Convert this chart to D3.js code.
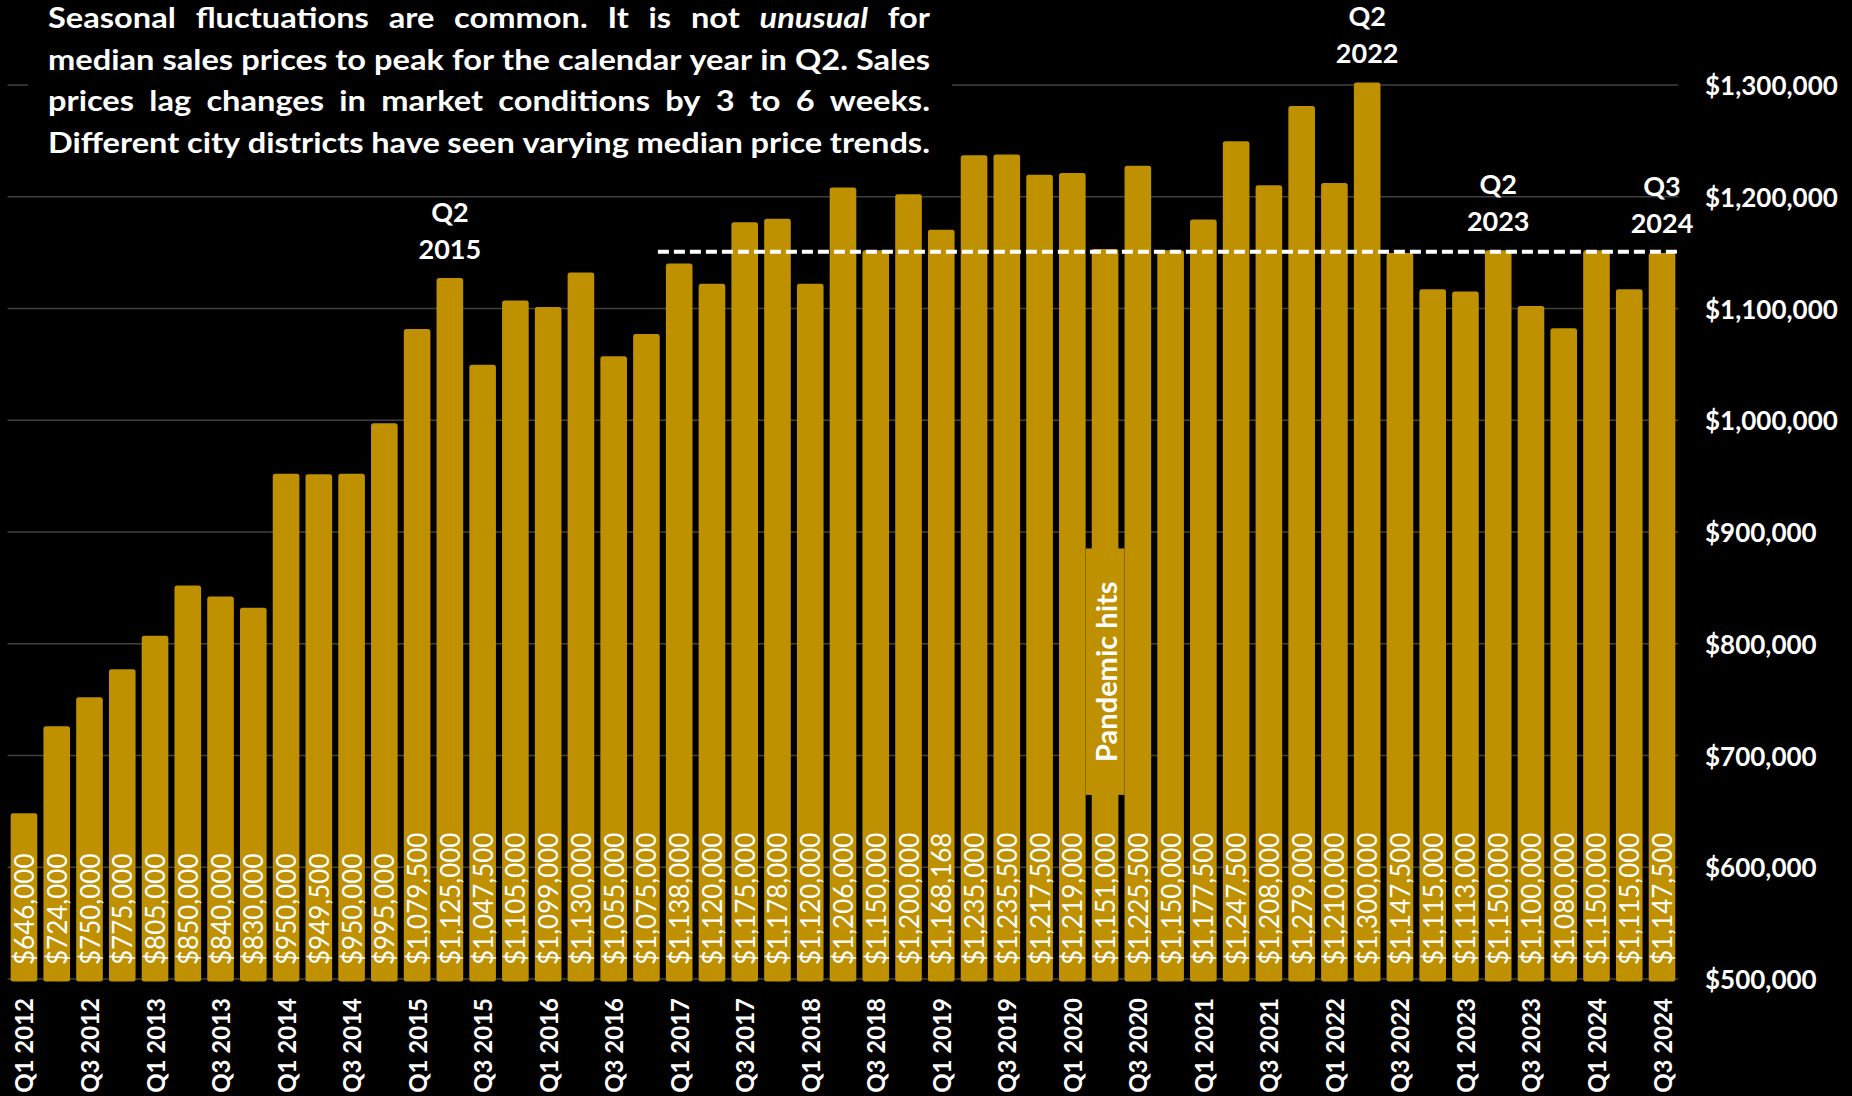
<!DOCTYPE html>
<html>
<head>
<meta charset="utf-8">
<script src="https://cdn.jsdelivr.net/npm/d3@7/dist/d3.min.js"></script>
<style>
  html, body { margin: 0; padding: 0; background: #000; }
  svg { display: block; }
</style>
</head>
<body>
<svg width="1852" height="1096"></svg>
<script>
// quarter categories, Q1 2012 .. Q3 2024
const quarters = [
  "Q1 2012", "Q2 2012", "Q3 2012", "Q4 2012",
  "Q1 2013", "Q2 2013", "Q3 2013", "Q4 2013",
  "Q1 2014", "Q2 2014", "Q3 2014", "Q4 2014",
  "Q1 2015", "Q2 2015", "Q3 2015", "Q4 2015",
  "Q1 2016", "Q2 2016", "Q3 2016", "Q4 2016",
  "Q1 2017", "Q2 2017", "Q3 2017", "Q4 2017",
  "Q1 2018", "Q2 2018", "Q3 2018", "Q4 2018",
  "Q1 2019", "Q2 2019", "Q3 2019", "Q4 2019",
  "Q1 2020", "Q2 2020", "Q3 2020", "Q4 2020",
  "Q1 2021", "Q2 2021", "Q3 2021", "Q4 2021",
  "Q1 2022", "Q2 2022", "Q3 2022", "Q4 2022",
  "Q1 2023", "Q2 2023", "Q3 2023", "Q4 2023",
  "Q1 2024", "Q2 2024", "Q3 2024"
];

// median sales price for each quarter
const medianPrices = [
  646000, 724000, 750000, 775000,
  805000, 850000, 840000, 830000,
  950000, 949500, 950000, 995000,
  1079500, 1125000, 1047500, 1105000,
  1099000, 1130000, 1055000, 1075000,
  1138000, 1120000, 1175000, 1178000,
  1120000, 1206000, 1150000, 1200000,
  1168168, 1235000, 1235500, 1217500,
  1219000, 1151000, 1225500, 1150000,
  1177500, 1247500, 1208000, 1279000,
  1210000, 1300000, 1147500, 1115000,
  1113000, 1150000, 1100000, 1080000,
  1150000, 1115000, 1147500
];

// only Q1 and Q3 get an axis label
const labelledQuarters = quarters.filter(q => q.startsWith("Q1") || q.startsWith("Q3"));

// y axis ticks
const priceTicks = [500000, 600000, 700000, 800000, 900000, 1000000, 1100000, 1200000, 1300000];

// callouts above some bars
const calloutQuarters = ["Q2 2015", "Q2 2022", "Q2 2023", "Q3 2024"];

// dashed reference level
const benchmarkPrice = 1150000;
const benchmarkAfter = "Q4 2016";

// pandemic marker
const pandemicQuarter = "Q2 2020";
const pandemicLabel = "Pandemic hits";
const pandemicLevel = 775000;

// note in the top left corner (*word* = italic)
const noteLines = [
  "Seasonal fluctuations are common. It is not *unusual* for",
  "median sales prices to peak for the calendar year in Q2. Sales",
  "prices lag changes in market conditions by 3 to 6 weeks.",
  "Different city districts have seen varying median price trends."
];

const gold = "#BF9000";
const font = "Lato, 'Open Sans', sans-serif";

let svg = d3.select("svg");
let width = parseInt(svg.attr("width"));
let height = parseInt(svg.attr("height"));

// scales
const x = d3.scaleBand()
    .domain(quarters)
    .range([7.6, 1678.4])
    .paddingInner(0.34)
    .paddingOuter(0.17);

const y = d3.scaleLinear()
    .domain([500000, 1300000])
    .range([979, 85]);

const fmt = v => "$" + d3.format(",")(v);
const cx = q => x(q) + x.bandwidth() / 2;

// gridlines
svg.append("g")
    .selectAll("line")
    .data(priceTicks)
    .enter()
    .append("line")
    .attr("x1", x.range()[0])
    .attr("x2", x.range()[1])
    .attr("y1", d => y(d))
    .attr("y2", d => y(d))
    .style("stroke", "#404040")
    .style("stroke-width", 1.5);

// note background hides the gridlines behind the text
const noteLeft = 48, noteWidth = 882, noteBase = 28, noteLead = 41.7, noteSize = 28.5;
svg.append("rect")
    .attr("x", noteLeft - 20)
    .attr("y", 0)
    .attr("width", noteWidth + 42)
    .attr("height", 168)
    .attr("fill", "#000");

// bars
svg.append("g")
    .selectAll("rect")
    .data(quarters)
    .enter()
    .append("rect")
    .attr("x", d => x(d))
    .attr("width", x.bandwidth())
    .attr("y", (d, i) => y(medianPrices[i]))
    .attr("height", (d, i) => y(500000) - y(medianPrices[i]))
    .attr("fill", gold)
    .attr("stroke", gold)
    .attr("stroke-width", 5)
    .attr("stroke-linejoin", "round");

// value labels inside the bars
svg.append("g")
    .selectAll("text")
    .data(quarters)
    .enter()
    .append("text")
    .attr("transform", d => `translate(${cx(d)},${y(500000) - 14}) rotate(-90)`)
    .attr("dominant-baseline", "central")
    .style("font-family", font)
    .style("font-size", "26px")
    .style("fill", "#fff")
    .text((d, i) => fmt(medianPrices[i]));

// dashed benchmark line
svg.append("line")
    .attr("x1", cx(benchmarkAfter) + x.step() * 0.35)
    .attr("x2", x.range()[1])
    .attr("y1", y(benchmarkPrice) - 1)
    .attr("y2", y(benchmarkPrice) - 1)
    .style("stroke", "#fff")
    .style("stroke-width", 4)
    .style("stroke-dasharray", "11,5");

// pandemic marker
const pand = svg.append("g")
    .attr("transform", `translate(${cx(pandemicQuarter)},${y(pandemicLevel)})`);
const pandBox = pand.append("rect").attr("fill", gold);
const pandText = pand.append("text")
    .attr("transform", "rotate(-90)")
    .attr("text-anchor", "middle")
    .attr("dominant-baseline", "central")
    .style("font-family", font)
    .style("font-size", "29px")
    .style("font-weight", "bold")
    .style("fill", "#fff")
    .text(pandemicLabel);
const pandLen = pandText.node().getComputedTextLength();
pandBox
    .attr("x", -x.step() / 2 - 3)
    .attr("width", x.step() + 6)
    .attr("y", -pandLen / 2 - 33)
    .attr("height", pandLen + 66);

// callouts above bars
calloutQuarters.forEach(q => {
    const v = medianPrices[quarters.indexOf(q)];
    const t = svg.append("text")
        .attr("text-anchor", "middle")
        .style("font-family", font)
        .style("font-size", "27px")
        .style("font-weight", "bold")
        .style("fill", "#fff");
    t.append("tspan").attr("x", cx(q)).attr("y", y(v) - 59).text(q.split(" ")[0]);
    t.append("tspan").attr("x", cx(q)).attr("y", y(v) - 22).text(q.split(" ")[1]);
});

// y axis labels on the right
svg.append("g")
    .selectAll("text")
    .data(priceTicks)
    .enter()
    .append("text")
    .attr("x", 1705)
    .attr("y", d => y(d))
    .attr("dominant-baseline", "central")
    .style("font-family", font)
    .style("font-size", "26px")
    .style("font-weight", "bold")
    .style("fill", "#fff")
    .text(fmt);

// x axis labels, rotated
svg.append("g")
    .selectAll("text")
    .data(labelledQuarters)
    .enter()
    .append("text")
    .attr("transform", d => `translate(${cx(d)},${y(500000) + 19}) rotate(-90)`)
    .attr("text-anchor", "end")
    .attr("dominant-baseline", "central")
    .style("font-family", font)
    .style("font-size", "24px")
    .style("font-weight", "bold")
    .style("fill", "#fff")
    .text(d => d);

// justified note text; glyphs stretched a bit so the widest line
// fills the box with ordinary word spacing
const note = svg.append("g");
const minGap = 7.5;
const noteRows = noteLines.map((line, i) => {
    const g = note.append("g")
        .attr("transform", `translate(${noteLeft},${noteBase + i * noteLead})`);
    const words = line.split(" ");
    const nodes = words.map(w => g.append("text")
        .style("font-family", font)
        .style("font-size", noteSize + "px")
        .style("font-weight", "bold")
        .style("font-style", w.startsWith("*") ? "italic" : "normal")
        .style("fill", "#fff")
        .text(w.replace(/\*/g, "")));
    const widths = nodes.map(n => n.node().getComputedTextLength());
    return {nodes: nodes, widths: widths, total: d3.sum(widths)};
});
const sx = d3.min(noteRows, r => (noteWidth - minGap * (r.nodes.length - 1)) / r.total);
noteRows.forEach(r => {
    const gap = (noteWidth - r.total * sx) / (r.nodes.length - 1);
    let pos = 0;
    r.nodes.forEach((n, k) => {
        n.attr("transform", `translate(${pos},0) scale(${sx},1)`);
        pos += r.widths[k] * sx + gap;
    });
});
</script>
</body>
</html>
